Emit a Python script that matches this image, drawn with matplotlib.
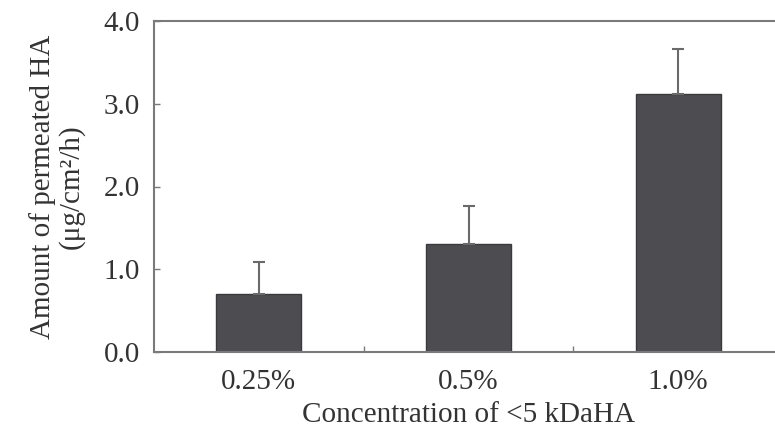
import matplotlib
matplotlib.use('Agg')
import matplotlib.pyplot as plt
import numpy as np

# data
concs = ['0.25%', '0.5%', '1.0%']
amount = [0.70, 1.30, 3.12]
err_up = [0.39, 0.47, 0.54]

plt.rcParams['font.family'] = ['Liberation Serif', 'DejaVu Serif']
txt = '#333333'
spine_c = '#7a7a7a'

fig = plt.figure(figsize=(7.75, 4.29), dpi=100)
ax = fig.add_axes([154/775, 77/429, 629/775, 331/429])

x = np.arange(len(concs))
yerr = np.vstack([np.zeros(len(err_up)), err_up])
ax.bar(x, amount, width=0.405, color='#4d4d51', edgecolor='#3a3a3e', linewidth=1.0,
       yerr=yerr, error_kw=dict(ecolor='#6a6a6a', elinewidth=1.5, capsize=4, capthick=1.5),
       zorder=2)

ax.set_xlim(-0.5, 2.5)
ax.set_ylim(0, 4.0)
ax.set_yticks([0, 1, 2, 3, 4])
ax.set_yticklabels(['0.0', '1.0', '2.0', '3.0', '4.0'])
ax.set_xticks(x)
ax.set_xticklabels(concs)
ax.set_xticks([0.5, 1.5], minor=True)

ax.tick_params(axis='y', direction='in', length=4, width=1, color=spine_c,
               labelsize=21, labelcolor=txt, pad=10)
ax.tick_params(axis='x', which='major', length=0, labelsize=21, labelcolor=txt, pad=12)
ax.tick_params(axis='x', which='minor', direction='in', length=4, width=1, color=spine_c)

for s in ax.spines.values():
    s.set_color(spine_c)
    s.set_linewidth(1.5)

ax.set_xlabel('Concentration of <5 kDaHA', fontsize=21, color=txt, labelpad=5)
ax.set_ylabel('Amount of permeated HA\n(μg/cm²/h)', fontsize=21, color=txt,
              labelpad=14, linespacing=1.05)

fig.savefig('out.png', dpi=100)
